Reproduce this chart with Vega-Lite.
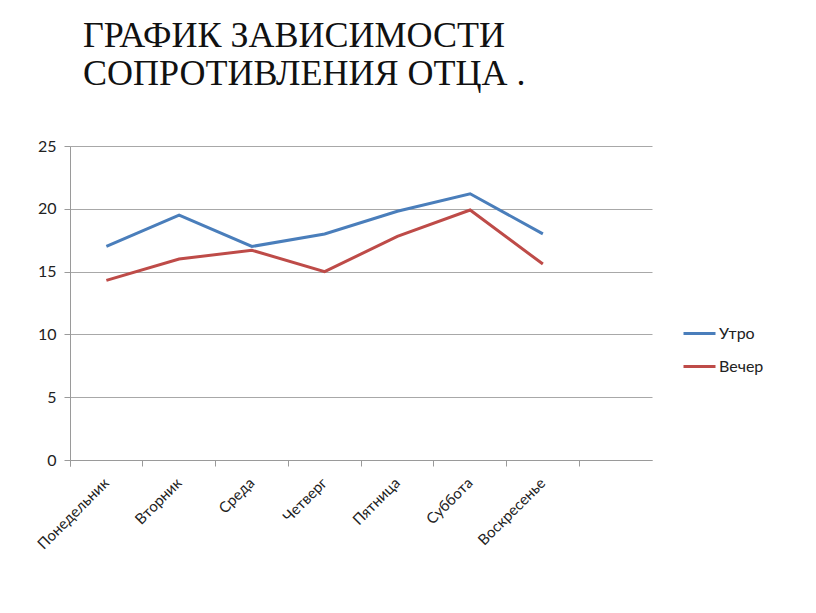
{
  "$schema": "https://vega.github.io/schema/vega-lite/v6.json",
  "width": 582,
  "height": 314,
  "autosize": {"type": "none"},
  "padding": {"left": 70, "top": 146, "right": 164, "bottom": 153},
  "background": "white",
  "title": {
    "text": ["ГРАФИК ЗАВИСИМОСТИ", "СОПРОТИВЛЕНИЯ ОТЦА ."],
    "font": "Liberation Serif",
    "fontSize": 36,
    "fontWeight": "normal",
    "color": "#111111",
    "anchor": "start",
    "frame": "group",
    "dx": 13,
    "offset": 45,
    "lineHeight": 38
  },
  "data": {
    "values": [
      {"day": "Понедельник", "series": "Утро", "value": 17.0},
      {"day": "Вторник", "series": "Утро", "value": 19.5},
      {"day": "Среда", "series": "Утро", "value": 17.0},
      {"day": "Четверг", "series": "Утро", "value": 18.0},
      {"day": "Пятница", "series": "Утро", "value": 19.8},
      {"day": "Суббота", "series": "Утро", "value": 21.2},
      {"day": "Воскресенье", "series": "Утро", "value": 18.0},
      {"day": "Понедельник", "series": "Вечер", "value": 14.3},
      {"day": "Вторник", "series": "Вечер", "value": 16.0},
      {"day": "Среда", "series": "Вечер", "value": 16.7},
      {"day": "Четверг", "series": "Вечер", "value": 15.0},
      {"day": "Пятница", "series": "Вечер", "value": 17.8},
      {"day": "Суббота", "series": "Вечер", "value": 19.9},
      {"day": "Воскресенье", "series": "Вечер", "value": 15.6}
    ]
  },
  "mark": {"type": "line", "strokeWidth": 3, "strokeJoin": "miter"},
  "encoding": {
    "x": {
      "field": "day",
      "type": "nominal",
      "scale": {
        "type": "band",
        "domain": ["Понедельник", "Вторник", "Среда", "Четверг", "Пятница", "Суббота", "Воскресенье", " "],
        "paddingInner": 0,
        "paddingOuter": 0
      },
      "axis": {
        "title": null,
        "bandPosition": 0,
        "tickExtra": true,
        "labelOffset": 0,
        "labelAngle": -45,
        "labelAlign": "right",
        "labelBaseline": "middle",
        "labelPadding": 14,
        "labelFont": "Lato",
        "labelFontSize": 15,
        "labelColor": "#222222",
        "tickColor": "#9a9a9a",
        "tickSize": 6,
        "domainColor": "#9a9a9a",
        "grid": false
      }
    },
    "y": {
      "field": "value",
      "type": "quantitative",
      "scale": {"domain": [0, 25], "nice": false},
      "axis": {
        "title": null,
        "values": [0, 5, 10, 15, 20, 25],
        "labelFont": "Lato",
        "labelFontSize": 16,
        "labelColor": "#222222",
        "labelPadding": 8,
        "tickColor": "#9a9a9a",
        "tickSize": 6,
        "domainColor": "#9a9a9a",
        "gridColor": "#a8a8a8",
        "gridWidth": 1
      }
    },
    "color": {
      "field": "series",
      "type": "nominal",
      "scale": {"domain": ["Утро", "Вечер"], "range": ["#4A7EBB", "#BE4B48"]},
      "legend": {
        "title": null,
        "orient": "none",
        "legendX": 612,
        "legendY": 170,
        "symbolType": "stroke",
        "symbolSize": 1024,
        "symbolStrokeWidth": 3,
        "rowPadding": 7,
        "labelFont": "Lato",
        "labelFontSize": 16,
        "labelColor": "#222222",
        "labelOffset": 2
      }
    }
  },
  "config": {"view": {"stroke": null}}
}
